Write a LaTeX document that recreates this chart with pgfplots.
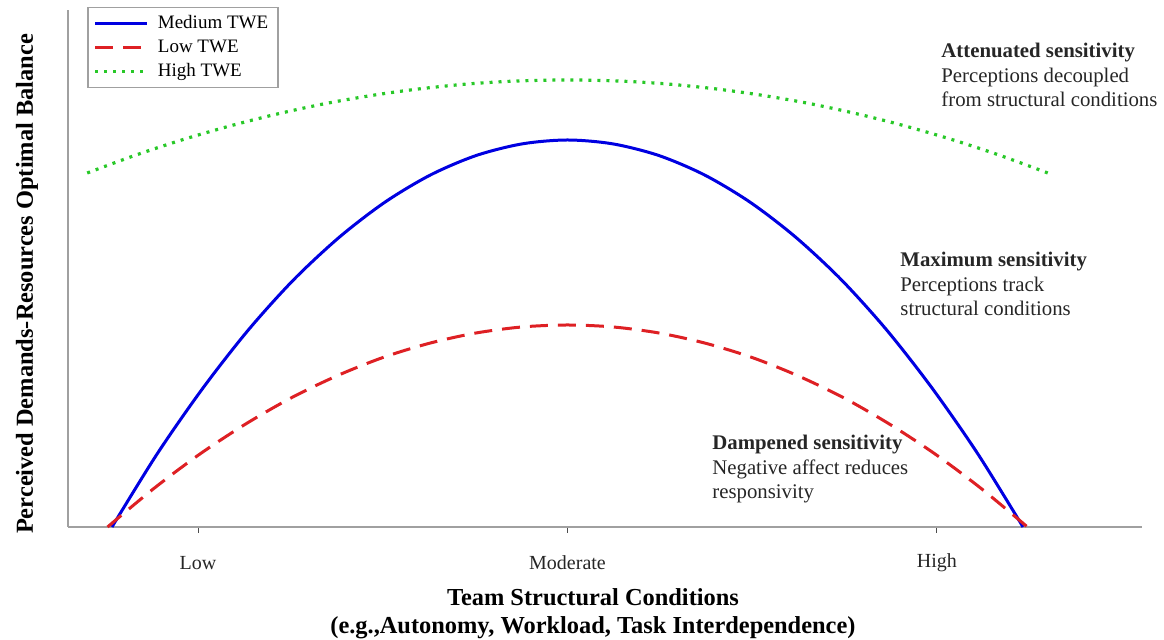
\documentclass[border=0pt]{standalone}
\usepackage{pgfplots}
\pgfplotsset{compat=1.18}
\usepackage{fontspec}
\setmainfont{Liberation Serif}
\definecolor{cblue}{RGB}{0,0,225}
\definecolor{cred}{RGB}{222,32,36}
\definecolor{cgreen}{RGB}{40,200,40}
\definecolor{axgray}{RGB}{160,160,160}
\begin{document}
\begin{tikzpicture}
\path[use as bounding box] (-34pt,-56.5pt) rectangle (548pt,263.5pt);
\begin{axis}[
  scale only axis,
  width=537pt, height=258.5pt,
  xmin=0.648, xmax=3.555, ymin=0, ymax=517,
  axis x line=bottom, axis y line=left,
  axis line style={-, axgray, line width=1pt},
  xtick={1,2,3}, xticklabels={Low,Moderate,High},
  ytick=\empty,
  tick align=outside, major tick length=3pt,
  tick style={black!70, line width=0.5pt},
  xticklabel style={font=\fontsize{10}{12}\selectfont, text=black!85, anchor=center, yshift=-15pt},
  xlabel={Team Structural Conditions\\(e.g.,Autonomy, Workload, Task Interdependence)},
  xlabel style={at={(axis description cs:0.4888,-0.167)}, anchor=center, align=center,
    font=\fontsize{12.2}{14}\selectfont\bfseries},
  ylabel={Perceived Demands-Resources Optimal Balance},
  ylabel style={at={(axis description cs:-0.0382,0.47)}, anchor=center,
    font=\fontsize{12.2}{14}\selectfont\bfseries},
  clip=false,
  legend style={at={(0.0177,1.006)}, anchor=north west, draw=axgray, line width=0.8pt,
    font=\fontsize{9.5}{11.5}\selectfont, inner xsep=3pt, inner ysep=2pt,
    cells={anchor=west}, row sep=0pt},
  legend image code/.code={\draw[#1] (0cm,0cm) -- (0.9cm,0cm); \path (1.0cm,0cm);},
]
\addplot[cblue, line width=1.5pt, smooth] coordinates {
(0.767,0) (0.890,73.5) (1.014,139.3) (1.137,197.4) (1.260,247.7) (1.384,290.3)
(1.507,325.1) (1.630,352.2) (1.753,371.5) (1.877,383.1) (2.000,387)
(2.123,383.1) (2.247,371.5) (2.370,352.2) (2.493,325.1) (2.616,290.3)
(2.740,247.7) (2.863,197.4) (2.986,139.3) (3.110,73.5) (3.233,0)};
\addlegendentry{Medium TWE}
\addplot[cred, line width=1.5pt, smooth, dash pattern=on 9pt off 5pt] coordinates {
(0.755,0) (0.880,38.4) (1.004,72.7) (1.129,103.0) (1.253,129.3) (1.378,151.5)
(1.502,169.7) (1.627,183.8) (1.751,193.9) (1.876,200.0) (2.000,202)
(2.124,200.0) (2.249,193.9) (2.373,183.8) (2.498,169.7) (2.622,151.5)
(2.747,129.3) (2.871,103.0) (2.996,72.7) (3.120,38.4) (3.245,0)};
\addlegendentry{Low TWE}
\addplot[cgreen, line width=1.6pt, smooth, dash pattern=on 1.5pt off 3pt] coordinates {
(0.70,354) (0.83,371.7) (0.96,387.5) (1.09,401.4) (1.22,413.5) (1.35,423.8)
(1.48,432.1) (1.61,438.6) (1.74,443.3) (1.87,446.1) (2.00,447)
(2.13,446.1) (2.26,443.3) (2.39,438.6) (2.52,432.1) (2.65,423.8)
(2.78,413.5) (2.91,401.4) (3.04,387.5) (3.17,371.7) (3.30,354)};
\addlegendentry{High TWE}
\node[anchor=north west, align=left, inner sep=0pt, font=\fontsize{10.4}{12.25}\selectfont, text=black!85]
  at (axis cs:3.011,484) {\textbf{Attenuated sensitivity}\\Perceptions decoupled\\from structural conditions};
\node[anchor=north west, align=left, inner sep=0pt, font=\fontsize{10.4}{12.25}\selectfont, text=black!85]
  at (axis cs:2.900,275) {\textbf{Maximum sensitivity}\\Perceptions track\\structural conditions};
\node[anchor=north west, align=left, inner sep=0pt, font=\fontsize{10.4}{12.25}\selectfont, text=black!85]
  at (axis cs:2.391,92) {\textbf{Dampened sensitivity}\\Negative affect reduces\\responsivity};
\end{axis}
\end{tikzpicture}
\end{document}
